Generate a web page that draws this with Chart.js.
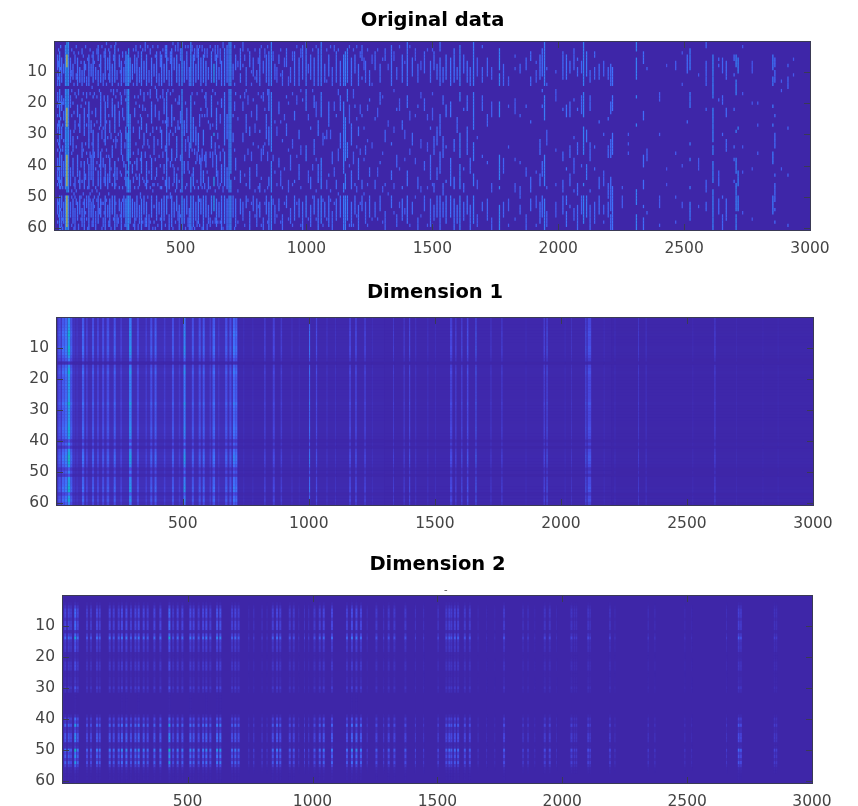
<!DOCTYPE html>
<html>
<head>
<meta charset="utf-8">
<script src="https://cdn.jsdelivr.net/npm/chart.js@4"></script>
<style>
html,body{margin:0;padding:0;background:#fff;width:858px;height:806px;overflow:hidden}
canvas{position:absolute;left:0;filter:blur(0.5px)}
#mark{position:absolute;left:444px;top:584px;font:10px "DejaVu Sans";color:#555}
</style>
</head>
<body>
<canvas id="c1" width="858" height="262" style="top:0"></canvas>
<canvas id="c2" width="858" height="266" style="top:270px"></canvas>
<canvas id="c3" width="858" height="266" style="top:540px"></canvas>
<div id="mark">-</div>
<script>
const titles = ["Original data", "Dimension 1", "Dimension 2"];
const xTicks = [500, 1000, 1500, 2000, 2500, 3000];
const yTicks = [10, 20, 30, 40, 50, 60];

// Original data, left block: [column, level, rows]
const origLeft = [
[9,.18,"5-9 11-14 17-19 21 24 27-29 32 35 38-44 46 51-55 58"],
[17,.22,"4-14 16-24 26-34 36-47 50-60"],
[25,.19,"6-13 18-22 28-31 37-46 50-53 55-59"],
[33,.18,"8-10 19 20 23-25 32 39-43 52-58"],
[40,.24,"2-14 16-47 50-60"],
[46,.32,"1-14 16-48 50-60"],
[46,.72,"5-8 22-27 37-46 50-59"],
[52,.25,"1-14 16-48 50-60"],
[60,.17,"6-13 18-21 29-33 41-46 52-56"],
[70,.18,"8-12 20 31-35 38-43 51-58"],
[78,.17,"5-7 17 26-28 44-47 50 54-60"],
[88,.19,"6-14 21-24 31 37-43 52-57"],
[97,.2,"9-13 24-29 42-47 50-55"],
[106,.18,"3-4 10-14 19 33-37 45 54-59"],
[115,.19,"7-13 22-30 39-47 51-60"],
[124,.17,"12-14 17-18 27 36 50-53 57"],
[133,.2,"5-14 20-34 40-47 50-60"],
[142,.18,"8-11 26-29 37-44 52-56"],
[150,.2,"4-13 18 29-46 51-59"],
[160,.17,"9-12 22-24 41 47 55-60"],
[170,.19,"2-6 10-14 30-37 42-46 50-58"],
[180,.2,"5-13 17-27 36-47 51-56"],
[190,.17,"11-14 28 38-40 52 57-59"],
[198,.2,"3-12 20-33 40-46 50-60"],
[208,.18,"6-9 18-21 31 43-47 53-56"],
[216,.2,"4-13 26-29 38-45 51-59"],
[226,.19,"8-14 19-24 34-37 46 50-55"],
[236,.21,"2-13 21-29 39-47 50-60"],
[245,.17,"10-12 16 32 41-44 56-59"],
[254,.18,"5-8 23-27 47 51-54"],
[262,.19,"7-14 18-20 30-36 43 52-60"],
[272,.18,"9-13 25 39-40 50-56"],
[280,.23,"4-14 19 28-31 40-46 51-59"],
[285,.24,"5-14 16-27 30-38 42 44-48 50-60"],
[291,.27,"3-14 16-48 50-60"],
[297,.23,"6-13 24-37 39 45-48 50-58"],
[306,.2,"8-12 40-42 51-56"],
[315,.18,"5-10 18 22-24 39 47 52-60"],
[324,.2,"6-14 38-41 44 50-56"],
[334,.18,"9-13 21 28-31 43-46 53-58"],
[342,.21,"4-14 25-28 36-42 51-60"],
[352,.19,"7-12 17-19 30-33 45 50-55"],
[362,.2,"5-14 27-29 39-47 52-59"],
[372,.17,"10-13 34 42 56-60"],
[382,.2,"6-14 20-26 38-44 50-56"],
[392,.18,"8-11 31-36 46 53 58"],
[402,.19,"4-13 16-18 28 41-43 50-57"],
[412,.17,"11-14 23-25 37 52-55"],
[422,.2,"5-14 29-34 47 51-60"],
[432,.19,"8-13 19-23 40-42 50-57"],
[442,.21,"2-12 17-48 50-55"],
[452,.18,"10-14 30-33 44-47 56-60"],
[462,.2,"3-14 21-27 35-38 50-59"],
[472,.18,"6-9 25 41-45 52-56"],
[482,.21,"5-13 31-37 43-47 50-54"],
[492,.19,"8-14 18-20 28 45 53-60"],
[503,.25,"1-14 16-48 50-60"],
[512,.2,"7-13 26-30 39-42 51-58"],
[522,.19,"4-12 22-29 46 50-55"],
[532,.18,"9-14 33-37 42 54-60"],
[538,.24,"1-14 18-34 44-48 50-60"],
[548,.21,"5-14 25-32 41-46 50-59"],
[558,.19,"8-13 28-33 39 52-57"],
[568,.21,"3-12 30-35 47 50-58"],
[578,.19,"6-14 22 38-46 51-55"],
[588,.21,"5-13 29-33 42-45 50-60"],
[598,.2,"7-14 17-21 36-40 50-56"],
[608,.18,"9-12 26 44-47 53-58"],
[620,.21,"4-13 18-24 31-34 50-55"],
[630,.3,"8-13 30 44-46 50-54"],
[640,.2,"5-14 22-28 37-43 51-59"],
[650,.18,"9-12 34 47 52-56"],
[660,.2,"7-14 19-21 40-45 50-60"],
[672,.21,"3-14 17-33 36-46 50-58"],
[682,.2,"2-13 24-31 41-47 51-60"],
[690,.24,"1-14 16-48 50-60"],
[697,.25,"1-14 16-42 45-48 50-60"],
[706,.18,"8-12 24 30-32 50-56"],
[716,.18,"5-9 17 38-41 51-59"]
];
// Original data, middle block
const origMid = [
[735,.19,"3-9 11-13 18 42-45 51-55"],
[745,.17,"1-3 8 20-22 30-32 52-57"],
[758,.18,"9-14 16 24-29 46 50-53"],
[772,.19,"4-8 28-30 41-47 55-60"],
[786,.17,"6-11 19 33 50-54"],
[800,.18,"10-13 21-25 40-43 51-59"],
[812,.19,"3-14 29 46-48 52-56"],
[826,.17,"7-10 17-19 34-36 57-60"],
[838,.18,"5-13 24-31 50-55"],
[848,.2,"4-14 16-22 28-33 44-46 52-60"],
[858,.23,"1-14 17-35 39-48 50-60"],
[872,.17,"8-12 26 42 53-58"],
[888,.18,"5-7 20-23 38-40 51-54"],
[902,.17,"10-14 32 47 56-60"],
[918,.18,"3-8 18 27-30 50-53"],
[934,.17,"9-13 37-41 54-58"],
[950,.19,"4-14 23-25 45 50-57"],
[968,.19,"6-14 29-31 40-44 51-56"],
[982,.18,"2-12 19 52-60"],
[996,.21,"1-14 16-22 34-38 50-56"],
[1014,.18,"5-12 28 44-47 53-59"],
[1028,.19,"6-14 18-21 32-36 50-55"],
[1044,.2,"3-14 26-30 40-45 51-60"],
[1056,.22,"1-14 17-24 38-47 50-58"],
[1070,.18,"8-13 31 52-56"],
[1086,.19,"5-11 20-27 43 50-59"],
[1100,.17,"9-14 36-39 55-60"],
[1116,.18,"4-13 24 45-47 51-57"],
[1132,.19,"7-14 18-22 30-34 50-56"],
[1145,.22,"5-14 20-42 46-48 50-60"],
[1152,.23,"4-14 25-38 43-47 50-60"],
[1160,.22,"3-13 16-19 33-37 50-57"],
[1176,.19,"6-14 27-33 42-47 52-59"],
[1190,.18,"5-10 21 46 50-55"],
[1204,.19,"8-14 28-30 38-44 53-60"],
[1218,.18,"2-6 12 24 45-47 50-54"],
[1232,.17,"7-13 34-36 52-58"],
[1248,.18,"10-14 19 41-43 50-56"]
];
// Original data, right-centre block
const origRight = [
[1270,.17,"4-9 25 45-47 52-56"],
[1290,.18,"8-13 17-20 39 50-54"],
[1310,.17,"3-6 29-32 46 55-60"],
[1335,.19,"2-14 33 42-44 50-53"],
[1356,.17,"9-12 22 37-40 56-59"],
[1378,.19,"5-13 26-28 47 51-57"],
[1398,.2,"1-14 18-21 42-46 50-58"],
[1418,.18,"6-11 30-33 52-55"],
[1440,.17,"8-13 21 44-47 57-60"],
[1466,.17,"4-10 19-22 39-41 50-54"],
[1490,.18,"7-13 28 37-44 51-59"],
[1504,.18,"4-9 31-36 46-48 53-57"],
[1516,.18,"8-12 28-33 41-44 50-56"],
[1528,.19,"1-3 6-14 24-30 36-42 50-60"],
[1540,.18,"9-13 18-20 31-37 46-49 52-56"],
[1552,.2,"5-12 21-24 34 45 50-58"],
[1570,.2,"6-14 20-24 38-46 50-56"],
[1584,.2,"3-13 32-35 44-47 51-60"],
[1596,.18,"9-12 25-29 53-58"],
[1607,.23,"2-14 17-19 30-37 40-47 50-60"],
[1622,.18,"5-10 22 41 46-48 52-57"],
[1636,.19,"7-13 18-22 28-36 50-55"],
[1648,.18,"9-14 38-42 53-60"],
[1661,.22,"1-14 17-28 33-38 43-46 50-58"],
[1676,.15,"6-11 31 45-47 56-59"],
[1696,.17,"2 9-13 18-22 37 52-54"],
[1716,.17,"6-11 24-27 39 51-57"],
[1733,.15,"9-12 20-24 46-48 57-60"],
[1764,.24,"3-9 11-14 20-24 37-44 47 53-60"],
[1780,.17,"8-14 38-42 52-56"],
[1800,.15,"12-14 21 34 51-54 59"],
[1826,.15,"5 9 19-23 38 46-48 57"],
[1846,.17,"8-10 24 39 47-50 53-55"],
[1870,.17,"6-9 21 41-43 56-60"],
[1888,.18,"4-6 12-14 26 44-48 51-54"],
[1910,.15,"7 10-13 42 50-53 59"],
[1925,.19,"5-12 32-36 43-46 52-58"],
[1934,.19,"3-11 16 21 39-43 50-56"],
[1943,.23,"1-14 18-25 37-46 51-60"],
[1952,.16,"9 14 29-33 47 55-59"],
[1988,.15,"10 16-19 35 46 52-56"],
[2016,.18,"4-12 22 36-38 45-48 50-55"],
[2030,.2,"5-12 21-24 41 50-52 55-59"],
[2044,.18,"7-10 20-24 34-37 43-46 53"],
[2060,.17,"3-9 19 31 38-42 48 54-57"],
[2074,.18,"6 9-11 22 33-36 46-49 53-60"],
[2090,.17,"7-10 18-23 40 50-55"],
[2098,.24,"1-14 17-24 28-36 46 50-58"],
[2110,.22,"4-11 29-32 40-44 50-56"],
[2124,.18,"10-13 18-22 33-38 48 53-60"],
[2142,.17,"4-5 9-12 34 41 52-58"],
[2160,.18,"8-12 26 44-47 50-55"],
[2178,.16,"7-11 30 42-46 53-55 58"],
[2196,.18,"9-12 25 34-37 46-50 52-56"],
[2206,.19,"8-14 20-23 32-37 44-54 56-60"],
[2213,.2,"9-14 18-22 30-36 47-60"]
];
// Original data, sparse far-right block
const origFar = [
[2252,.15,"47 50-53"],
[2276,.15,"30 33 36"],
[2308,.24,"1-3 6-12 18 27 48-52 56-60"],
[2336,.19,"4-7 23-25 37-40 45-47 53 57-60"],
[2350,.17,"9 35-38 55"],
[2400,.15,"17-19 30 50-53 59"],
[2428,.12,"8 41 46"],
[2464,.15,"7-9 36 50 58"],
[2490,.14,"4 14 40 52-53"],
[2510,.18,"5-10 26"],
[2521,.22,"3-9 17-21 33 38 47 52-57"],
[2555,.14,"11 38-41 53"],
[2585,.17,"1-2 7-14 22 45-48 52-54"],
[2612,.24,"5-18 22-32 34-36 39-45 48-60"],
[2635,.17,"6 8 19 42-46 51-55"],
[2650,.17,"6-10 18-20 30 50 56-60"],
[2665,.18,"7-12 22-24 32-35 51-57"],
[2696,.18,"5-6 11 22 34 38 45"],
[2704,.24,"5-8 13-17 29 38-42 46-49 50-54 56-60"],
[2712,.24,"6-10 28 42-46 50-54"],
[2730,.14,"2 17 34 42 55"],
[2768,.14,"7-10 20 41 57"],
[2790,.15,"20 27 36"],
[2850,.22,"5-9 12-14 21 27 36-39 50-55"],
[2858,.19,"6-8 10-13 24 30-34 43 46-51 54 58"],
[2884,.15,"13 16 41"],
[2910,.17,"8 12-15 28 43 59"],
[2932,.14,"6 11"]
];
// Original data, short isolated dots between the main columns
const origDots = [
[13,.18,"3 7-8 12 20 26-27 33 41 44-45 52 56"],
[21,.2,"2 9 20 25 35 45 47 54 60"],
[29,.18,"20 27 34-35 47 57 60"],
[65,.16,"3 10-11 16 24 36 48 50 59"],
[74,.17,"4 14 23 29 46 49 60"],
[83,.17,"2 11-12 18 34 48 51-52"],
[92,.16,"4 16-17 27 45 59-60"],
[102,.17,"7 21 39-40 50 57"],
[111,.16,"5 17 35 49 52"],
[120,.17,"2 8-9 20 33 43-44 55"],
[128,.16,"6 24 38-39 47 60"],
[138,.17,"3 17 36-37 49 51"],
[146,.16,"5 15 23 33 48 58-59"],
[155,.17,"7 17 27 36-37 50 53"],
[165,.16,"3-4 18 26 39 48 51"],
[175,.17,"8 16 28 40 49 54-55"],
[185,.16,"2 29-31 35 52 60"],
[194,.17,"4-5 18-19 32 44-45 55"],
[203,.16,"1 14 26 35 37 51"],
[212,.17,"3 11-12 24 37 49 58-59"],
[221,.16,"2 16 30-31 41 60"],
[231,.17,"5-6 16-17 32 43 57"],
[240,.16,"1 18 31-34 46 52"],
[250,.17,"3 14 20-21 30 38 57-58"],
[258,.16,"10 17 29 42 56"],
[267,.17,"4-5 22-24 37-38 47 51"],
[276,.16,"7 16-17 33-34 44 59"],
[310,.16,"3 14 28-29 36 44-45 59"],
[320,.17,"2-3 20 33 43 57"],
[329,.16,"4-5 18 26 35-36 47 59-60"],
[338,.17,"2 16-17 24 38 49-50"],
[347,.16,"3 21-22 34 44 58"],
[357,.17,"1-3 22 36-37 46 57-59"],
[367,.16,"2 17 24 32-33 45 50"],
[377,.17,"3-4 16-18 30 37 47 58"],
[387,.16,"2 28-29 46 48 60"],
[397,.17,"5 15 21-24 38 44 60"],
[407,.16,"2 19 32-33 46 59"],
[417,.17,"4-8 18 28-29 40 47 57"],
[427,.16,"3 16-18 26 36-37 44"],
[437,.17,"2-5 26 34-35 45-46 59"],
[447,.16,"6 16 25-27 38 50"],
[457,.17,"4-7 17 29 39-40 49-50"],
[467,.16,"1 16 30 40 46 60"],
[477,.17,"2-3 19 28-29 38 48 58"],
[487,.16,"1-3 20 26-28 41 55-57"],
[497,.17,"3-6 23-26 37-38 48 56"],
[517,.16,"2 20 32-35 47 60"],
[527,.17,"2 31-32 39-41 57-59"],
[543,.16,"2-3 17 35 43 60"],
[553,.17,"3-6 20 35-36 47 60"],
[563,.16,"2-5 17 36-38 45 58-59"],
[573,.17,"2 24-27 37-39 51 59"],
[583,.16,"2-3 16 24 35-38 47 60"],
[593,.17,"3-5 18 24 37-38 46-47"],
[603,.16,"3-5 22-24 42 48 59-60"],
[615,.17,"2 27-28 36-37 47 57-59"],
[625,.16,"3 16 27 36-40 58"],
[635,.17,"2-6 17 33-36 48 57-58"],
[645,.16,"2-5 20 30-31 42-46 58"],
[655,.17,"3-7 24-26 36-38 46 58"],
[666,.16,"1-2 35 47-48 60"],
[712,.16,"2 14 20-22 35 44 60"],
[725,.15,"7-8 25 48 58"],
[752,.15,"5-6 17-18 37-38 43 59"],
[765,.15,"3 18-20 35-36 51"],
[779,.15,"10 14 23-24 36-38 52"],
[793,.15,"3 12 27-29 48 56"],
[806,.15,"6-7 17 34 47 53"],
[818,.15,"2 18 35-38 44 59"],
[832,.15,"3-5 22 33 48 52"],
[843,.15,"2 16-17 36-38 47 58"],
[865,.15,"4-6 37-38 51-52"],
[880,.15,"9-13 28-30 46 56"],
[895,.15,"3 11 26 42-46 58"],
[910,.15,"6-8 24-25 41 52"],
[926,.15,"12-14 20 35 45-48 57"],
[942,.15,"4-6 17 32-34 46 59"],
[959,.15,"2 18-20 37 52"],
[975,.15,"3-5 16 34-36 47 59"],
[1005,.15,"8-10 24-25 42-45 57"],
[1022,.15,"3 16 40-41 50"],
[1036,.15,"2 20-24 38 48 57"],
[1063,.15,"30-33 51 59"],
[1078,.15,"3 13 29-31 45-47 57"],
[1093,.15,"2 29-31 48 51"],
[1108,.15,"2-3 20-22 41-43 52"],
[1124,.15,"3 16-17 35-38 49"],
[1168,.15,"2 21-26 40 59"],
[1184,.15,"3 16-18 36-39 59"],
[1197,.15,"2 25 34 47-48 56"],
[1211,.15,"4-5 21-23 35-36 52"],
[1226,.15,"6-9 28 38 49"],
[1240,.15,"3 21-22 32 46 59"],
[1258,.14,"5-7 14 33-34 57"],
[1280,.14,"3 22-24 41-43 57"],
[1300,.14,"6 18 36 47-48 58"],
[1322,.14,"8-9 26-27 49"],
[1345,.14,"4-6 16 28-29 46-47 55"],
[1367,.14,"2 19-22 41 52-53"],
[1388,.14,"7 29-31 38 54-55"],
[1408,.14,"2 23-25 35-36 59"],
[1430,.14,"3-6 24 38-39 50"],
[1452,.14,"7-9 17-18 32-34 47-48 56"],
[1478,.14,"3 24-25 33-35 47 59"],
[1498,.14,"2-3 17 22-25 46 59"]
];
const origColumnWidth = 5;

// Dimension 1: row strength and column stripes [from, to, level]
const dim1RowGain = [.68,.68,.72,.77,.89,.94,.81,.81,.81,.94,.94,.89,.72,.55,.1,.68,.81,.94,.77,.72,.72,.77,.72,.72,.72,.72,.77,.98,.81,.77,.72,.72,.72,.77,.81,.89,.85,.81,.72,.3,.64,.26,.77,.89,1.02,1.02,.94,.77,.34,.6,.26,.77,.81,.85,.98,.94,.43,.77,.89,.6];
const dim1Stripes = [
[1,720,.035],[720,1300,.014],[1300,2200,.01],[2200,3000,.005],
[6,16,.15],[20,30,.2],[31,41,.24],[43,54,.42],[54,62,.17],[66,72,.06],[78,84,.06],
[100,109,.2],[116,123,.1],[140,148,.16],[160,167,.12],[180,188,.14],[198,208,.15],[226,234,.18],[252,259,.09],
[287,297,.32],[318,326,.13],[352,358,.09],[371,379,.16],[388,396,.18],[425,431,.09],[457,465,.16],[484,490,.09],
[503,511,.3],[536,544,.16],[563,571,.15],[579,587,.18],[606,612,.09],[618,628,.2],[640,645,.08],[668,677,.16],[685,693,.15],[699,707,.24],[708,716,.2],
[740,744,.04],[776,780,.04],[822,829,.08],[857,865,.11],[888,894,.08],[930,936,.04],[960,964,.04],
[1001,1005,.24],[1028,1033,.12],[1070,1074,.06],[1104,1108,.05],[1160,1167,.11],[1184,1190,.12],[1220,1226,.1],[1250,1254,.04],
[1334,1338,.08],[1376,1380,.09],[1398,1402,.13],[1422,1426,.06],[1470,1474,.05],[1500,1504,.04],
[1560,1569,.11],[1580,1586,.08],[1605,1609,.13],[1627,1633,.13],[1661,1665,.18],[1720,1725,.06],[1764,1768,.1],[1860,1863,.04],
[1931,1937,.09],[1943,1947,.15],[2015,2018,.04],[2040,2044,.05],[2097,2101,.15],[2106,2120,.13],[2170,2173,.04],[2213,2216,.04],
[2306,2310,.07],[2336,2340,.05],[2522,2525,.03],[2609,2613,.1],[2695,2698,.025],[2800,2803,.025],[2860,2863,.025]
];

// Dimension 2: row strength and column stripes
const dim2RowGain = [0,.01,.04,.14,.29,.32,.29,.14,.29,.32,.29,.07,.29,.6,.22,.18,.22,.18,.04,.04,.07,.18,.2,.18,.04,.04,.07,.09,.07,.22,.11,.01,.01,.01,.01,.01,.01,.01,.07,.32,.18,.54,.14,.18,.43,.47,.4,.07,.11,.72,.32,.5,.22,.54,.25,.07,.04,.02,.02,.01];
const dim2Stripes = [
[6,14,.3],[20,28,.3],[29,37,.2],[46,54,.58],[56,64,.3],
[93,101,.2],[109,117,.2],[133,141,.3],[144,152,.25],
[184,192,.3],[200,208,.25],[220,228,.25],[233,241,.35],[251,259,.35],[269,277,.25],[287,295,.3],[300,308,.35],[320,328,.3],[336,344,.25],
[363,371,.3],[387,395,.3],[423,431,.58],[438,446,.2],[456,464,.3],[475,483,.3],
[507,515,.35],[520,528,.3],[540,548,.25],[558,566,.3],[571,579,.35],[587,595,.25],[614,622,.4],[627,635,.4],
[674,682,.25],[687,695,.3],[700,708,.25],[743,747,.08],[763,767,.15],[796,800,.15],[816,820,.1],[837,845,.25],[854,862,.3],[867,875,.25],
[905,913,.2],[921,929,.2],[943,947,.1],[966,970,.15],[983,987,.15],[1004,1012,.2],[1025,1033,.25],[1041,1049,.3],[1074,1082,.3],
[1134,1142,.25],[1154,1162,.35],[1172,1180,.35],[1190,1198,.3],[1217,1221,.12],[1252,1260,.2],[1283,1287,.15],[1301,1309,.2],[1324,1332,.2],[1368,1376,.2],[1410,1414,.15],[1443,1447,.12],
[1500,1506,.15],[1532,1540,.2],[1544,1552,.25],[1553,1560,.22],[1566,1574,.25],[1579,1587,.25],[1606,1614,.2],[1626,1634,.2],[1661,1665,.08],[1695,1699,.06],[1728,1732,.06],[1763,1771,.2],
[1840,1846,.12],[1860,1866,.12],[1888,1892,.06],[1926,1934,.15],[1946,1954,.15],[1975,1979,.06],[2033,2041,.15],[2046,2052,.1],[2054,2060,.1],[2100,2108,.15],[2109,2115,.12],[2187,2195,.12],[2209,2213,.08],
[2342,2346,.12],[2369,2373,.1],[2489,2493,.08],[2516,2520,.05],[2656,2660,.1],[2703,2710,.25],[2712,2719,.2],[2847,2853,.12],[2855,2861,.1]
];

// Parula-like colour ramp
const rampStops = ["3e26a8","4748e0","3f72fc","2796eb","10b0d0","2cbaa0","7fc06a","c4bd3e","fbba3d","f8d92f","f9fb15"];
function ramp(v){
  const t = Math.max(0, Math.min(1, v)) * (rampStops.length - 1);
  const i = Math.min(Math.floor(t), rampStops.length - 2), f = t - i;
  const a = parseInt(rampStops[i], 16), b = parseInt(rampStops[i + 1], 16);
  const ch = s => Math.round(((a >> s) & 255) * (1 - f) + ((b >> s) & 255) * f);
  return `rgb(${ch(16)},${ch(8)},${ch(0)})`;
}

function origCells(){
  const cells = [];
  [origLeft, origMid, origRight, origFar, origDots].forEach(block => block.forEach(([x, lvl, rows]) => {
    rows.split(" ").forEach(r => {
      const [a, b] = r.split("-").map(Number);
      for (let y = a; y <= (b || a); y++) cells.push({x: [x, x + origColumnWidth], y, v: lvl});
    });
  }));
  return cells;
}
function stripeCells(gain, stripes){
  const cells = [];
  stripes.forEach(([x0, x1, lvl]) => gain.forEach((g, i) => {
    if (lvl * g > 0.003) cells.push({x: [x0, x1], y: i + 1, v: lvl * g});
  }));
  return cells;
}

const framePlugin = {
  id: "frame",
  beforeDatasetsDraw(chart){
    const {ctx, chartArea: a} = chart;
    ctx.save(); ctx.fillStyle = ramp(0);
    ctx.fillRect(a.left, a.top, a.right - a.left, a.bottom - a.top);
    ctx.restore();
  },
  afterDatasetsDraw(chart){
    const {ctx, chartArea: a, scales} = chart;
    ctx.save();
    ctx.strokeStyle = "#3a3a55"; ctx.lineWidth = 1;
    ctx.strokeRect(a.left - .5, a.top - .5, a.right - a.left + 1, a.bottom - a.top + 1);
    ctx.beginPath();
    xTicks.forEach(t => {
      const p = Math.round(scales.x.getPixelForValue(t)) + .5;
      ctx.moveTo(p, a.top); ctx.lineTo(p, a.top + 6);
      ctx.moveTo(p, a.bottom); ctx.lineTo(p, a.bottom - 6);
    });
    yTicks.forEach(t => {
      const p = Math.round(scales.y.getPixelForValue(t)) + .5;
      ctx.moveTo(a.left, p); ctx.lineTo(a.left + 6, p);
      ctx.moveTo(a.right, p); ctx.lineTo(a.right - 6, p);
    });
    ctx.stroke();
    ctx.restore();
  }
};

function makeChart(id, title, cells, box){
  return new Chart(document.getElementById(id), {
    type: "bar",
    data: {datasets: [{
      data: cells,
      backgroundColor: cells.map(c => ramp(c.v)),
      barThickness: 3.3,
      borderWidth: 0,
      borderSkipped: false,
      inflateAmount: 0
    }]},
    plugins: [framePlugin],
    options: {
      indexAxis: "y",
      responsive: false,
      animation: false,
      events: [],
      devicePixelRatio: 1,
      layout: {padding: {left: 0, right: box.right, top: 0, bottom: 0}},
      plugins: {
        legend: {display: false},
        tooltip: {enabled: false},
        title: {
          display: true, text: title, fullSize: false, color: "#000",
          font: {family: "'DejaVu Sans'", weight: "700", size: 19.5, lineHeight: 1.2},
          padding: {top: box.titleTop, bottom: box.top - 23.4 - box.titleTop}
        }
      },
      scales: {
        x: {
          type: "linear", position: "bottom", min: 1, max: 3000, offset: false,
          grid: {display: false, drawTicks: false, tickLength: 0},
          border: {display: false},
          afterBuildTicks(s){ s.ticks = xTicks.map(value => ({value})); },
          afterFit(s){ s.height = box.axisH; },
          ticks: {color: "#444", font: {family: "'DejaVu Sans'", size: 15.5}, padding: 10, maxRotation: 0, autoSkip: false, callback: v => String(v)}
        },
        y: {
          type: "linear", position: "left", reverse: true, min: .5, max: 60.5, offset: false,
          grid: {display: false, drawTicks: false, tickLength: 0},
          border: {display: false},
          afterBuildTicks(s){ s.ticks = yTicks.map(value => ({value})); },
          afterFit(s){ s.width = box.left; },
          ticks: {color: "#444", font: {family: "'DejaVu Sans'", size: 15.5}, padding: 8, autoSkip: false, callback: v => String(v)}
        }
      }
    }
  });
}

makeChart("c1", titles[0], origCells(), {left: 55, right: 48, top: 42, titleTop: 9, axisH: 32});
makeChart("c2", titles[1], stripeCells(dim1RowGain, dim1Stripes), {left: 57, right: 45, top: 48, titleTop: 11, axisH: 31});
makeChart("c3", titles[2], stripeCells(dim2RowGain, dim2Stripes), {left: 63, right: 46, top: 56, titleTop: 13, axisH: 23});
</script>
</body>
</html>
